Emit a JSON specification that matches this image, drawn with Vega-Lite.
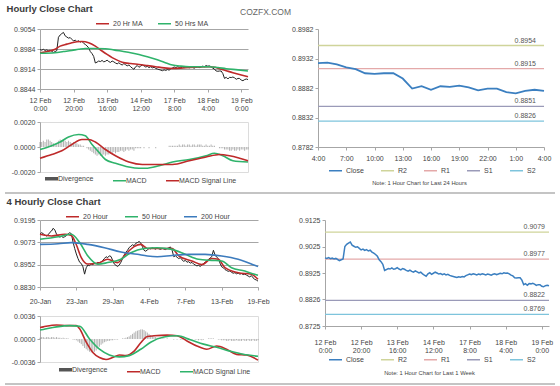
{
"$schema":"https://vega.github.io/schema/vega-lite/v6.json",
"padding":{"left":5,"top":3,"right":5,"bottom":0},
"autosize":{"type":"pad"},
"background":"white",
"config":{
 "font":"Liberation Sans",
 "view":{"stroke":null},
 "axis":{"labelFont":"Liberation Sans","labelFontSize":7,"labelColor":"#444444","domainColor":"#a6a6a6","tickColor":"#a6a6a6","tickSize":3,"gridColor":"#a6a6a6","labelPadding":2,"labelFlush":false,"labelOverlap":false,"labelBound":false,"labelSeparation":0,"tickCount":40},
 "legend":{"labelFont":"Liberation Sans","labelFontSize":7,"labelColor":"#444444","symbolType":"stroke","symbolStrokeWidth":1.5,"symbolSize":169,"columnPadding":12,"direction":"horizontal","orient":"none","padding":0,"labelOffset":3},
 "title":{"font":"Liberation Sans"}
},
"datasets":{
"hr":[{"i":0,"c":0.8982,"d":0.0004},{"i":1,"c":0.898,"d":0.0004},{"i":2,"c":0.8983,"d":0.0005},{"i":3,"c":0.8979,"d":0.0004},{"i":4,"c":0.8981,"d":0.0006},{"i":5,"c":0.8978,"d":0.0006},{"i":6,"c":0.898,"d":0.0005},{"i":7,"c":0.8976,"d":0.0004},{"i":8,"c":0.8972,"d":0.0003},{"i":9,"c":0.8975,"d":0.0002},{"i":10,"c":0.8978,"d":0.0003},{"i":11,"c":0.9025,"d":0.0005},{"i":12,"c":0.9033,"d":0.0006},{"i":13,"c":0.9038,"d":0.0005},{"i":14,"c":0.9042,"d":0.0006},{"i":15,"c":0.903,"d":0.0005},{"i":16,"c":0.9026,"d":0.0004},{"i":17,"c":0.9022,"d":0.0005},{"i":18,"c":0.9024,"d":0.0004},{"i":19,"c":0.9018,"d":0.0003},{"i":20,"c":0.9012,"d":0.0004},{"i":21,"c":0.9015,"d":0.0003},{"i":22,"c":0.901,"d":0.0003},{"i":23,"c":0.9013,"d":0.0002},{"i":24,"c":0.9008,"d":0.0002},{"i":25,"c":0.9011,"d":0.0001},{"i":26,"c":0.9004,"d":0.0001},{"i":27,"c":0.9,"d":0},{"i":28,"c":0.8995,"d":-0.0001},{"i":29,"c":0.8988,"d":-0.0002},{"i":30,"c":0.8975,"d":-0.0003},{"i":31,"c":0.8968,"d":-0.0004},{"i":32,"c":0.8958,"d":-0.0005},{"i":33,"c":0.8935,"d":-0.0006},{"i":34,"c":0.8938,"d":-0.0007},{"i":35,"c":0.8942,"d":-0.0006},{"i":36,"c":0.894,"d":-0.0007},{"i":37,"c":0.8944,"d":-0.0007},{"i":38,"c":0.8939,"d":-0.0006},{"i":39,"c":0.8941,"d":-0.0007},{"i":40,"c":0.8945,"d":-0.0006},{"i":41,"c":0.894,"d":-0.0006},{"i":42,"c":0.8937,"d":-0.0005},{"i":43,"c":0.8942,"d":-0.0005},{"i":44,"c":0.8939,"d":-0.0004},{"i":45,"c":0.8935,"d":-0.0005},{"i":46,"c":0.8932,"d":-0.0004},{"i":47,"c":0.8936,"d":-0.0004},{"i":48,"c":0.8931,"d":-0.0003},{"i":49,"c":0.8928,"d":-0.0003},{"i":50,"c":0.8933,"d":-0.0004},{"i":51,"c":0.8929,"d":-0.0003},{"i":52,"c":0.8925,"d":-0.0002},{"i":53,"c":0.8928,"d":-0.0003},{"i":54,"c":0.8922,"d":-0.0002},{"i":55,"c":0.8917,"d":-0.0002},{"i":56,"c":0.8913,"d":-0.0003},{"i":57,"c":0.8922,"d":-0.0001},{"i":58,"c":0.8926,"d":-0.0001},{"i":59,"c":0.892,"d":-0.0001},{"i":60,"c":0.8924,"d":-0.0001},{"i":61,"c":0.8928,"d":0},{"i":62,"c":0.8925,"d":-0.0001},{"i":63,"c":0.8921,"d":0},{"i":64,"c":0.8923,"d":0},{"i":65,"c":0.8919,"d":-0.0001},{"i":66,"c":0.8922,"d":0},{"i":67,"c":0.8918,"d":0},{"i":68,"c":0.892,"d":0},{"i":69,"c":0.8916,"d":-0.0001},{"i":70,"c":0.8914,"d":0},{"i":71,"c":0.8912,"d":0},{"i":72,"c":0.891,"d":0},{"i":73,"c":0.8908,"d":0},{"i":74,"c":0.8911,"d":0},{"i":75,"c":0.8909,"d":0},{"i":76,"c":0.8912,"d":0},{"i":77,"c":0.891,"d":0.0001},{"i":78,"c":0.8915,"d":0.0001},{"i":79,"c":0.8918,"d":0.0001},{"i":80,"c":0.8921,"d":0.0001},{"i":81,"c":0.8919,"d":0.0001},{"i":82,"c":0.8922,"d":0.0001},{"i":83,"c":0.892,"d":0.0002},{"i":84,"c":0.8918,"d":0.0001},{"i":85,"c":0.8921,"d":0.0002},{"i":86,"c":0.8919,"d":0.0002},{"i":87,"c":0.8922,"d":0.0001},{"i":88,"c":0.892,"d":0.0002},{"i":89,"c":0.8918,"d":0.0002},{"i":90,"c":0.8921,"d":0.0001},{"i":91,"c":0.8919,"d":0.0002},{"i":92,"c":0.8917,"d":0.0002},{"i":93,"c":0.892,"d":0.0001},{"i":94,"c":0.8922,"d":0.0002},{"i":95,"c":0.8919,"d":0.0002},{"i":96,"c":0.8921,"d":0.0002},{"i":97,"c":0.8924,"d":0.0001},{"i":98,"c":0.8922,"d":0.0001},{"i":99,"c":0.8926,"d":0.0002},{"i":100,"c":0.8924,"d":0.0001},{"i":101,"c":0.8925,"d":0.0001},{"i":102,"c":0.8922,"d":0.0002},{"i":103,"c":0.8917,"d":0.0001},{"i":104,"c":0.8914,"d":0.0001},{"i":105,"c":0.8907,"d":0},{"i":106,"c":0.8906,"d":0},{"i":107,"c":0.8907,"d":-0.0001},{"i":108,"c":0.8907,"d":-0.0001},{"i":109,"c":0.8898,"d":-0.0001},{"i":110,"c":0.8881,"d":-0.0002},{"i":111,"c":0.8885,"d":-0.0002},{"i":112,"c":0.8879,"d":-0.0002},{"i":113,"c":0.8885,"d":-0.0003},{"i":114,"c":0.8884,"d":-0.0003},{"i":115,"c":0.8886,"d":-0.0002},{"i":116,"c":0.8883,"d":-0.0003},{"i":117,"c":0.8878,"d":-0.0003},{"i":118,"c":0.8881,"d":-0.0002},{"i":119,"c":0.8881,"d":-0.0003},{"i":120,"c":0.8875,"d":-0.0002},{"i":121,"c":0.8873,"d":-0.0002},{"i":122,"c":0.8877,"d":-0.0003},{"i":123,"c":0.8879,"d":-0.0002},{"i":124,"c":0.8877,"d":-0.0002}],
"hma":[{"i":0,"s":"20 Hr MA","v":0.8971},{"i":5,"s":"20 Hr MA","v":0.8976},{"i":9,"s":"20 Hr MA","v":0.8983},{"i":12,"s":"20 Hr MA","v":0.8994},{"i":16,"s":"20 Hr MA","v":0.9001},{"i":19,"s":"20 Hr MA","v":0.9006},{"i":25,"s":"20 Hr MA","v":0.901},{"i":29,"s":"20 Hr MA","v":0.9006},{"i":33,"s":"20 Hr MA","v":0.8994},{"i":37,"s":"20 Hr MA","v":0.8977},{"i":40,"s":"20 Hr MA","v":0.8965},{"i":43,"s":"20 Hr MA","v":0.8954},{"i":46,"s":"20 Hr MA","v":0.8945},{"i":49,"s":"20 Hr MA","v":0.8938},{"i":54,"s":"20 Hr MA","v":0.8933},{"i":59,"s":"20 Hr MA","v":0.893},{"i":64,"s":"20 Hr MA","v":0.8926},{"i":69,"s":"20 Hr MA","v":0.8922},{"i":74,"s":"20 Hr MA","v":0.8918},{"i":79,"s":"20 Hr MA","v":0.8916},{"i":84,"s":"20 Hr MA","v":0.8917},{"i":89,"s":"20 Hr MA","v":0.8919},{"i":95,"s":"20 Hr MA","v":0.8921},{"i":101,"s":"20 Hr MA","v":0.8922},{"i":104,"s":"20 Hr MA","v":0.892},{"i":107,"s":"20 Hr MA","v":0.8915},{"i":111,"s":"20 Hr MA","v":0.8908},{"i":115,"s":"20 Hr MA","v":0.8901},{"i":120,"s":"20 Hr MA","v":0.8893},{"i":124,"s":"20 Hr MA","v":0.8887},
{"i":0,"s":"50 Hrs MA","v":0.8969},{"i":9,"s":"50 Hrs MA","v":0.8971},{"i":14,"s":"50 Hrs MA","v":0.8975},{"i":19,"s":"50 Hrs MA","v":0.8979},{"i":23,"s":"50 Hrs MA","v":0.8983},{"i":27,"s":"50 Hrs MA","v":0.8986},{"i":33,"s":"50 Hrs MA","v":0.8986},{"i":39,"s":"50 Hrs MA","v":0.8985},{"i":44,"s":"50 Hrs MA","v":0.8981},{"i":49,"s":"50 Hrs MA","v":0.8976},{"i":54,"s":"50 Hrs MA","v":0.8971},{"i":59,"s":"50 Hrs MA","v":0.8965},{"i":64,"s":"50 Hrs MA","v":0.8957},{"i":69,"s":"50 Hrs MA","v":0.8948},{"i":74,"s":"50 Hrs MA","v":0.8938},{"i":79,"s":"50 Hrs MA","v":0.8928},{"i":84,"s":"50 Hrs MA","v":0.8924},{"i":89,"s":"50 Hrs MA","v":0.8922},{"i":95,"s":"50 Hrs MA","v":0.8922},{"i":101,"s":"50 Hrs MA","v":0.8922},{"i":106,"s":"50 Hrs MA","v":0.8919},{"i":111,"s":"50 Hrs MA","v":0.8915},{"i":118,"s":"50 Hrs MA","v":0.8911},{"i":124,"s":"50 Hrs MA","v":0.8907}],
"hmacd":[{"i":0,"s":"MACD","v":-0.0002},{"i":7,"s":"MACD","v":0.0001},{"i":12,"s":"MACD","v":0.0004},{"i":17,"s":"MACD","v":0.0008},{"i":23,"s":"MACD","v":0.001},{"i":27,"s":"MACD","v":0.0009},{"i":31,"s":"MACD","v":0.0002},{"i":35,"s":"MACD","v":-0.0004},{"i":39,"s":"MACD","v":-0.001},{"i":45,"s":"MACD","v":-0.0013},{"i":53,"s":"MACD","v":-0.0016},{"i":59,"s":"MACD","v":-0.0017},{"i":63,"s":"MACD","v":-0.0017},{"i":71,"s":"MACD","v":-0.0015},{"i":79,"s":"MACD","v":-0.0012},{"i":89,"s":"MACD","v":-0.001},{"i":99,"s":"MACD","v":-0.0007},{"i":104,"s":"MACD","v":-0.0005},{"i":109,"s":"MACD","v":-0.0007},{"i":115,"s":"MACD","v":-0.0011},{"i":124,"s":"MACD","v":-0.0012},
{"i":0,"s":"MACD Signal Line","v":-0.0009},{"i":7,"s":"MACD Signal Line","v":-0.0006},{"i":13,"s":"MACD Signal Line","v":-0.0003},{"i":19,"s":"MACD Signal Line","v":0.0002},{"i":25,"s":"MACD Signal Line","v":0.0006},{"i":29,"s":"MACD Signal Line","v":0.0006},{"i":33,"s":"MACD Signal Line","v":0.0004},{"i":39,"s":"MACD Signal Line","v":-0.0002},{"i":45,"s":"MACD Signal Line","v":-0.0007},{"i":53,"s":"MACD Signal Line","v":-0.0012},{"i":61,"s":"MACD Signal Line","v":-0.0014},{"i":71,"s":"MACD Signal Line","v":-0.0014},{"i":79,"s":"MACD Signal Line","v":-0.0014},{"i":89,"s":"MACD Signal Line","v":-0.0011},{"i":99,"s":"MACD Signal Line","v":-0.0008},{"i":107,"s":"MACD Signal Line","v":-0.0006},{"i":113,"s":"MACD Signal Line","v":-0.0007},{"i":119,"s":"MACD Signal Line","v":-0.0009},{"i":124,"s":"MACD Signal Line","v":-0.0011}],
"h4":[{"i":0,"c":0.9118,"d":0.0002},{"i":1,"c":0.9126,"d":0.0003},{"i":2,"c":0.912,"d":0.0003},{"i":3,"c":0.9112,"d":0.0002},{"i":4,"c":0.9108,"d":0.0003},{"i":5,"c":0.9115,"d":0.0003},{"i":6,"c":0.9128,"d":0.0002},{"i":7,"c":0.9135,"d":0.0003},{"i":8,"c":0.915,"d":0.0003},{"i":9,"c":0.914,"d":0.0002},{"i":10,"c":0.9118,"d":0.0003},{"i":11,"c":0.9108,"d":0.0002},{"i":12,"c":0.9102,"d":0.0002},{"i":13,"c":0.9106,"d":0.0001},{"i":14,"c":0.91,"d":0.0002},{"i":15,"c":0.9104,"d":0.0001},{"i":16,"c":0.911,"d":0.0001},{"i":17,"c":0.9118,"d":0.0001},{"i":18,"c":0.9126,"d":0},{"i":19,"c":0.912,"d":0},{"i":20,"c":0.9075,"d":-0.0001},{"i":21,"c":0.904,"d":-0.0001},{"i":22,"c":0.901,"d":-0.0002},{"i":23,"c":0.8985,"d":-0.0004},{"i":24,"c":0.8965,"d":-0.0006},{"i":25,"c":0.8958,"d":-0.0008},{"i":26,"c":0.894,"d":-0.0011},{"i":27,"c":0.89,"d":-0.0014},{"i":28,"c":0.8935,"d":-0.0016},{"i":29,"c":0.895,"d":-0.0018},{"i":30,"c":0.8946,"d":-0.002},{"i":31,"c":0.8955,"d":-0.0021},{"i":32,"c":0.8952,"d":-0.0021},{"i":33,"c":0.896,"d":-0.002},{"i":34,"c":0.8958,"d":-0.0018},{"i":35,"c":0.8964,"d":-0.0015},{"i":36,"c":0.8962,"d":-0.0012},{"i":37,"c":0.8966,"d":-0.0009},{"i":38,"c":0.8975,"d":-0.0007},{"i":39,"c":0.8985,"d":-0.0005},{"i":40,"c":0.8995,"d":-0.0004},{"i":41,"c":0.899,"d":-0.0003},{"i":42,"c":0.9,"d":-0.0003},{"i":43,"c":0.8996,"d":-0.0002},{"i":44,"c":0.8975,"d":-0.0002},{"i":45,"c":0.8955,"d":-0.0001},{"i":46,"c":0.8948,"d":-0.0001},{"i":47,"c":0.8942,"d":-0.0001},{"i":48,"c":0.895,"d":0},{"i":49,"c":0.8965,"d":0},{"i":50,"c":0.8985,"d":0.0001},{"i":51,"c":0.9005,"d":0.0001},{"i":52,"c":0.902,"d":0.0002},{"i":53,"c":0.903,"d":0.0003},{"i":54,"c":0.9045,"d":0.0004},{"i":55,"c":0.9052,"d":0.0006},{"i":56,"c":0.906,"d":0.0008},{"i":57,"c":0.9055,"d":0.001},{"i":58,"c":0.9068,"d":0.0012},{"i":59,"c":0.9072,"d":0.0013},{"i":60,"c":0.9078,"d":0.0014},{"i":61,"c":0.907,"d":0.0015},{"i":62,"c":0.905,"d":0.0015},{"i":63,"c":0.903,"d":0.0014},{"i":64,"c":0.9025,"d":0.0012},{"i":65,"c":0.9032,"d":0.001},{"i":66,"c":0.904,"d":0.0008},{"i":67,"c":0.9038,"d":0.0006},{"i":68,"c":0.9044,"d":0.0005},{"i":69,"c":0.904,"d":0.0004},{"i":70,"c":0.9036,"d":0.0003},{"i":71,"c":0.9042,"d":0.0002},{"i":72,"c":0.9038,"d":0.0002},{"i":73,"c":0.9035,"d":0.0001},{"i":74,"c":0.904,"d":0.0001},{"i":75,"c":0.9037,"d":0.0001},{"i":76,"c":0.9034,"d":0},{"i":77,"c":0.904,"d":0.0001},{"i":78,"c":0.9044,"d":0},{"i":79,"c":0.9048,"d":0},{"i":80,"c":0.903,"d":0},{"i":81,"c":0.8995,"d":-0.0001},{"i":82,"c":0.9,"d":0},{"i":83,"c":0.8992,"d":-0.0001},{"i":84,"c":0.8985,"d":0},{"i":85,"c":0.899,"d":-0.0001},{"i":86,"c":0.8978,"d":-0.0001},{"i":87,"c":0.897,"d":0},{"i":88,"c":0.8975,"d":-0.0001},{"i":89,"c":0.8965,"d":-0.0001},{"i":90,"c":0.8968,"d":0},{"i":91,"c":0.896,"d":-0.0001},{"i":92,"c":0.8964,"d":-0.0001},{"i":93,"c":0.8955,"d":0},{"i":94,"c":0.895,"d":-0.0001},{"i":95,"c":0.8945,"d":-0.0001},{"i":96,"c":0.8948,"d":-0.0002},{"i":97,"c":0.8942,"d":-0.0001},{"i":98,"c":0.895,"d":-0.0002},{"i":99,"c":0.8958,"d":-0.0001},{"i":100,"c":0.8965,"d":0},{"i":101,"c":0.8972,"d":0},{"i":102,"c":0.898,"d":0.0001},{"i":103,"c":0.8988,"d":0.0001},{"i":104,"c":0.8995,"d":0.0001},{"i":105,"c":0.903,"d":0.0001},{"i":106,"c":0.9005,"d":0},{"i":107,"c":0.8992,"d":0},{"i":108,"c":0.8985,"d":-0.0001},{"i":109,"c":0.896,"d":-0.0001},{"i":110,"c":0.894,"d":-0.0002},{"i":111,"c":0.8935,"d":-0.0002},{"i":112,"c":0.8925,"d":-0.0002},{"i":113,"c":0.892,"d":-0.0003},{"i":114,"c":0.8915,"d":-0.0003},{"i":115,"c":0.8918,"d":-0.0002},{"i":116,"c":0.891,"d":-0.0003},{"i":117,"c":0.8905,"d":-0.0003},{"i":118,"c":0.8908,"d":-0.0003},{"i":119,"c":0.8902,"d":-0.0002},{"i":120,"c":0.8906,"d":-0.0003},{"i":121,"c":0.89,"d":-0.0003},{"i":122,"c":0.8903,"d":-0.0003},{"i":123,"c":0.8898,"d":-0.0002},{"i":124,"c":0.89,"d":-0.0003},{"i":125,"c":0.8895,"d":-0.0003},{"i":126,"c":0.889,"d":-0.0002},{"i":127,"c":0.8885,"d":-0.0003},{"i":128,"c":0.8892,"d":-0.0003},{"i":129,"c":0.888,"d":-0.0002},{"i":130,"c":0.8872,"d":-0.0003},{"i":131,"c":0.8868,"d":-0.0003},{"i":132,"c":0.8862,"d":-0.0002}],
"h4ma":[{"i":0,"s":"20 Hour","v":0.9117},{"i":7,"s":"20 Hour","v":0.9108},{"i":15,"s":"20 Hour","v":0.9117},{"i":19,"s":"20 Hour","v":0.911},{"i":22,"s":"20 Hour","v":0.906},{"i":25,"s":"20 Hour","v":0.899},{"i":29,"s":"20 Hour","v":0.8955},{"i":35,"s":"20 Hour","v":0.8959},{"i":41,"s":"20 Hour","v":0.8981},{"i":47,"s":"20 Hour","v":0.8963},{"i":51,"s":"20 Hour","v":0.9},{"i":57,"s":"20 Hour","v":0.905},{"i":61,"s":"20 Hour","v":0.9062},{"i":65,"s":"20 Hour","v":0.904},{"i":73,"s":"20 Hour","v":0.904},{"i":80,"s":"20 Hour","v":0.9039},{"i":84,"s":"20 Hour","v":0.9},{"i":92,"s":"20 Hour","v":0.8972},{"i":98,"s":"20 Hour","v":0.8952},{"i":104,"s":"20 Hour","v":0.8985},{"i":108,"s":"20 Hour","v":0.8981},{"i":112,"s":"20 Hour","v":0.8935},{"i":120,"s":"20 Hour","v":0.8908},{"i":128,"s":"20 Hour","v":0.8899},{"i":132,"s":"20 Hour","v":0.8872},
{"i":0,"s":"50 Hour","v":0.909},{"i":11,"s":"50 Hour","v":0.9104},{"i":19,"s":"50 Hour","v":0.9117},{"i":24,"s":"50 Hour","v":0.9072},{"i":29,"s":"50 Hour","v":0.8999},{"i":35,"s":"50 Hour","v":0.8954},{"i":41,"s":"50 Hour","v":0.8963},{"i":49,"s":"50 Hour","v":0.8981},{"i":55,"s":"50 Hour","v":0.9017},{"i":63,"s":"50 Hour","v":0.904},{"i":71,"s":"50 Hour","v":0.9044},{"i":80,"s":"50 Hour","v":0.9035},{"i":88,"s":"50 Hour","v":0.9008},{"i":96,"s":"50 Hour","v":0.8981},{"i":104,"s":"50 Hour","v":0.8975},{"i":110,"s":"50 Hour","v":0.8972},{"i":116,"s":"50 Hour","v":0.8935},{"i":124,"s":"50 Hour","v":0.8917},{"i":130,"s":"50 Hour","v":0.8899},{"i":132,"s":"50 Hour","v":0.8894},
{"i":0,"s":"200 Hour","v":0.9062},{"i":11,"s":"200 Hour","v":0.9066},{"i":19,"s":"200 Hour","v":0.9072},{"i":29,"s":"200 Hour","v":0.9062},{"i":39,"s":"200 Hour","v":0.9044},{"i":49,"s":"200 Hour","v":0.9021},{"i":59,"s":"200 Hour","v":0.9008},{"i":65,"s":"200 Hour","v":0.8999},{"i":71,"s":"200 Hour","v":0.8995},{"i":80,"s":"200 Hour","v":0.9002},{"i":90,"s":"200 Hour","v":0.9008},{"i":100,"s":"200 Hour","v":0.9008},{"i":110,"s":"200 Hour","v":0.8999},{"i":120,"s":"200 Hour","v":0.8981},{"i":130,"s":"200 Hour","v":0.8948},{"i":132,"s":"200 Hour","v":0.8941}],
"h4macd":[{"i":0,"s":"MACD","v":0.0018},{"i":2,"s":"MACD","v":0.0019},{"i":10,"s":"MACD","v":0.0022},{"i":16,"s":"MACD","v":0.0021},{"i":22,"s":"MACD","v":0.0021},{"i":24,"s":"MACD","v":0.0016},{"i":28,"s":"MACD","v":-0.0005},{"i":32,"s":"MACD","v":-0.0021},{"i":36,"s":"MACD","v":-0.0029},{"i":40,"s":"MACD","v":-0.0032},{"i":44,"s":"MACD","v":-0.0029},{"i":48,"s":"MACD","v":-0.0025},{"i":52,"s":"MACD","v":-0.0026},{"i":57,"s":"MACD","v":-0.0019},{"i":61,"s":"MACD","v":-0.0006},{"i":65,"s":"MACD","v":0.0004},{"i":69,"s":"MACD","v":0.0005},{"i":77,"s":"MACD","v":0.0006},{"i":83,"s":"MACD","v":0.0005},{"i":89,"s":"MACD","v":-0.0003},{"i":95,"s":"MACD","v":-0.0011},{"i":101,"s":"MACD","v":-0.0016},{"i":107,"s":"MACD","v":-0.0011},{"i":113,"s":"MACD","v":-0.0016},{"i":119,"s":"MACD","v":-0.0024},{"i":125,"s":"MACD","v":-0.0025},{"i":132,"s":"MACD","v":-0.0033},
{"i":0,"s":"MACD Signal Line","v":0.0014},{"i":2,"s":"MACD Signal Line","v":0.0015},{"i":10,"s":"MACD Signal Line","v":0.0019},{"i":18,"s":"MACD Signal Line","v":0.0021},{"i":24,"s":"MACD Signal Line","v":0.002},{"i":30,"s":"MACD Signal Line","v":0},{"i":36,"s":"MACD Signal Line","v":-0.0016},{"i":42,"s":"MACD Signal Line","v":-0.0025},{"i":48,"s":"MACD Signal Line","v":-0.0028},{"i":54,"s":"MACD Signal Line","v":-0.0026},{"i":61,"s":"MACD Signal Line","v":-0.0016},{"i":67,"s":"MACD Signal Line","v":-0.0005},{"i":75,"s":"MACD Signal Line","v":0.0003},{"i":83,"s":"MACD Signal Line","v":0.0005},{"i":91,"s":"MACD Signal Line","v":-0.0001},{"i":99,"s":"MACD Signal Line","v":-0.0008},{"i":107,"s":"MACD Signal Line","v":-0.0013},{"i":115,"s":"MACD Signal Line","v":-0.0019},{"i":123,"s":"MACD Signal Line","v":-0.0024},{"i":132,"s":"MACD Signal Line","v":-0.0027}],
"lv24":[{"s":"R2","v":0.8954},{"s":"R1","v":0.8915},{"s":"S1","v":0.8851},{"s":"S2","v":0.8826}],
"lvwk":[{"s":"R2","v":0.9079},{"s":"R1","v":0.8977},{"s":"S1","v":0.8822},{"s":"S2","v":0.8769}],
"one":[{"k":"separator"}],
"none":[]
},
"concat":[
 {"concat":[
   {"width":1,"height":1,"data":{"name":"none"},"mark":"rule","encoding":{}},
   {"concat":[
     {"concat":[
       {"width":208,"height":60,
        "title":{"text":"Hourly Close Chart","anchor":"start","frame":"bounds","fontSize":9.5,"fontWeight":"bold","color":"#3a3a3a","offset":3,"dx":-7},
        "layer":[
         {"data":{"name":"hr"},"mark":{"type":"line","color":"#222222","strokeWidth":1},
          "encoding":{
           "x":{"field":"i","type":"quantitative","title":null,"scale":{"domain":[0,124],"nice":false,"zero":false},"axis":{"values":[0,20,40,60,80,100,120],"tickCount":40,"grid":false,"labelOverlap":false,"labelPadding":4,"labelLineHeight":8,"labelExpr":"[['12 Feb','0:00'],['12 Feb','20:00'],['13 Feb','16:00'],['14 Feb','12:00'],['17 Feb','8:00'],['18 Feb','4:00'],['19 Feb','0:00']][round(datum.value/20)]"}},
           "y":{"field":"c","type":"quantitative","title":null,"scale":{"domain":[0.8844,0.9054],"nice":false,"zero":false},"axis":{"values":[0.8844,0.8914,0.8984,0.9054],"tickCount":40,"format":".4f","grid":true,"labelOverlap":false}}}},
         {"data":{"name":"hma"},"mark":{"type":"line","strokeWidth":1.6,"interpolate":"monotone"},
          "encoding":{
           "x":{"field":"i","type":"quantitative","title":null},
           "y":{"field":"v","type":"quantitative","title":null},
           "color":{"field":"s","type":"nominal","title":null,"scale":{"domain":["20 Hr MA","50 Hrs MA"],"range":["#be2a2a","#2fb36b"]},"legend":{"legendX":55,"legendY":-13}}}}
        ]},
       {"width":208,"height":50,"view":{"stroke":"#dcdcdc"},
        "layer":[
         {"data":{"name":"hr"},"mark":{"type":"rule","strokeWidth":0.9,"opacity":0.5},
          "encoding":{
           "x":{"field":"i","type":"quantitative","title":null,"scale":{"domain":[0,124],"nice":false,"zero":false},"axis":null},
           "y":{"field":"d","type":"quantitative","title":null,"scale":{"domain":[-0.002,0.002],"nice":false,"zero":false},"axis":{"values":[-0.002,0,0.002],"tickCount":40,"grid":false,"labelOverlap":false,"labelExpr":"replace(format(datum.value,'.4f'),'\u2212','-')"}},
           "y2":{"datum":0},
           "color":{"datum":"Divergence","title":null,"scale":{"domain":["Divergence","MACD","MACD Signal Line"],"range":["#555555","#2fb36b","#be2a2a"]}}}},
         {"data":{"name":"hmacd"},"mark":{"type":"line","strokeWidth":1.6,"interpolate":"monotone"},
          "encoding":{
           "x":{"field":"i","type":"quantitative","title":null},
           "y":{"field":"v","type":"quantitative","title":null},
           "color":{"field":"s","type":"nominal","title":null,"scale":{"domain":["Divergence","MACD","MACD Signal Line"],"range":["#555555","#2fb36b","#be2a2a"]},"legend":{"legendX":8,"legendY":53,"columnPadding":16,"encode":{"symbols":{"update":{"strokeWidth":{"signal":"datum.value === 'Divergence' ? 3.5 : 1.5"},"opacity":{"value":1}}}}}}}}
        ]}
     ],"columns":1,"align":"each","spacing":6,"resolve":{"scale":{"color":"independent"},"legend":{"color":"independent"}}},
     {"width":226,"height":118,
      "title":{"text":"COZFX.COM","anchor":"start","frame":"group","fontSize":8.5,"fontWeight":"normal","color":"#666666","offset":9,"dx":-78},
      "layer":[
       {"data":{"name":"lv24"},"mark":{"type":"rule","strokeWidth":1.3},
        "encoding":{
         "y":{"field":"v","type":"quantitative","title":null,"scale":{"domain":[0.8782,0.8982],"nice":false,"zero":false},"axis":{"values":[0.8782,0.8832,0.8882,0.8932,0.8982],"tickCount":40,"format":".4f","grid":false,"labelOverlap":false}},
         "color":{"field":"s","type":"nominal","title":null,"scale":{"domain":["Close","R2","R1","S1","S2"],"range":["#3b7fc0","#cfd49a","#e4a9a9","#9a9ab8","#7ec4dc"]},"legend":{"legendX":10,"legendY":134,"columnPadding":14}}}},
       {"data":{"name":"lv24"},"mark":{"type":"text","align":"right","baseline":"bottom","dx":-8,"dy":-2,"fontSize":7,"color":"#555555"},
        "encoding":{
         "x":{"datum":124,"type":"quantitative"},
         "y":{"field":"v","type":"quantitative","title":null},
         "text":{"field":"v","type":"quantitative","format":".4f"}}},
       {"data":{"name":"hr"},"transform":[{"filter":"datum.i >= 100"}],"mark":{"type":"line","strokeWidth":1.8},
        "encoding":{
         "x":{"field":"i","type":"quantitative","scale":{"domain":[100,124],"nice":false,"zero":false},"axis":{"values":[100,103,106,109,112,115,118,121,124],"tickCount":40,"grid":false,"labelOverlap":false,"labelPadding":4,"labelExpr":"((datum.value - 96) % 24) + ':00'","title":"Note: 1 Hour Chart for Last 24 Hours","titleFontSize":5.8,"titleFontWeight":"normal","titleColor":"#444444","titleX":101,"titleY":35,"titleBaseline":"middle","titleAlign":"center"}},
         "y":{"field":"c","type":"quantitative","title":null},
         "color":{"datum":"Close","title":null,"scale":{"domain":["Close","R2","R1","S1","S2"],"range":["#3b7fc0","#cfd49a","#e4a9a9","#9a9ab8","#7ec4dc"]}}}}
      ]}
   ],"align":"none","spacing":-13,"resolve":{"scale":{"color":"independent"},"legend":{"color":"independent"}}}
 ],"align":"none","spacing":0,"resolve":{"scale":{"color":"independent"},"legend":{"color":"independent"}}},
 {"width":550,"height":5,"data":{"name":"one"},"mark":{"type":"rect","color":"#c4c4c4"},
  "encoding":{"x":{"datum":0,"type":"quantitative","scale":{"domain":[0,1]},"axis":null},"x2":{"datum":1},"y":{"datum":0,"type":"quantitative","scale":{"domain":[0,5]},"axis":null},"y2":{"datum":2}}},
 {"concat":[
   {"width":1,"height":1,"data":{"name":"none"},"mark":"rule","encoding":{}},
   {"concat":[
     {"concat":[
       {"width":218,"height":67,
        "title":{"text":"4 Hourly Close Chart","anchor":"start","frame":"bounds","fontSize":9.5,"fontWeight":"bold","color":"#3a3a3a","offset":3,"dx":-7},
        "layer":[
         {"data":{"name":"h4"},"mark":{"type":"line","color":"#222222","strokeWidth":1},
          "encoding":{
           "x":{"field":"i","type":"quantitative","title":null,"scale":{"domain":[0,132],"nice":false,"zero":false},"axis":{"values":[0,22,44,66,88,110,132],"tickCount":40,"grid":false,"labelOverlap":false,"labelPadding":7,"labelExpr":"['20-Jan','23-Jan','29-Jan','4-Feb','7-Feb','13-Feb','19-Feb'][round(datum.value/22)]"}},
           "y":{"field":"c","type":"quantitative","title":null,"scale":{"domain":[0.883,0.9195],"nice":false,"zero":false},"axis":{"values":[0.883,0.89517,0.90733,0.9195],"tickCount":40,"format":".4f","grid":true,"labelOverlap":false}}}},
         {"data":{"name":"h4ma"},"mark":{"type":"line","strokeWidth":1.6,"interpolate":"monotone"},
          "encoding":{
           "x":{"field":"i","type":"quantitative","title":null},
           "y":{"field":"v","type":"quantitative","title":null},
           "color":{"field":"s","type":"nominal","title":null,"scale":{"domain":["20 Hour","50 Hour","200 Hour"],"range":["#be2a2a","#2fb36b","#3c7bbd"]},"legend":{"legendX":25,"legendY":-11,"columnPadding":14}}}}
        ]},
       {"width":218,"height":46,"view":{"stroke":"#dcdcdc"},
        "layer":[
         {"data":{"name":"h4"},"mark":{"type":"rule","strokeWidth":0.9,"opacity":0.5},
          "encoding":{
           "x":{"field":"i","type":"quantitative","title":null,"scale":{"domain":[0,132],"nice":false,"zero":false},"axis":null},
           "y":{"field":"d","type":"quantitative","title":null,"scale":{"domain":[-0.0036,0.0036],"nice":false,"zero":false},"axis":{"values":[-0.0036,0,0.0036],"tickCount":40,"grid":false,"labelOverlap":false,"labelExpr":"replace(format(datum.value,'.4f'),'\u2212','-')"}},
           "y2":{"datum":0},
           "color":{"datum":"Divergence","title":null,"scale":{"domain":["Divergence","MACD","MACD Signal Line"],"range":["#555555","#be2a2a","#2fb36b"]}}}},
         {"data":{"name":"h4macd"},"mark":{"type":"line","strokeWidth":1.6,"interpolate":"monotone"},
          "encoding":{
           "x":{"field":"i","type":"quantitative","title":null},
           "y":{"field":"v","type":"quantitative","title":null},
           "color":{"field":"s","type":"nominal","title":null,"scale":{"domain":["Divergence","MACD","MACD Signal Line"],"range":["#555555","#be2a2a","#2fb36b"]},"legend":{"legendX":22,"legendY":50,"columnPadding":16,"encode":{"symbols":{"update":{"strokeWidth":{"signal":"datum.value === 'Divergence' ? 3.5 : 1.5"},"opacity":{"value":1}}}}}}}}
        ]}
     ],"columns":1,"align":"each","spacing":7,"resolve":{"scale":{"color":"independent"},"legend":{"color":"independent"}}},
     {"width":224,"height":106,
      "layer":[
       {"data":{"name":"lvwk"},"mark":{"type":"rule","strokeWidth":1.3},
        "encoding":{
         "y":{"field":"v","type":"quantitative","title":null,"scale":{"domain":[0.8725,0.9125],"nice":false,"zero":false},"axis":{"values":[0.8725,0.88256,0.8925,0.9025,0.9125],"tickCount":40,"format":".4f","grid":false,"labelOverlap":false}},
         "color":{"field":"s","type":"nominal","title":null,"scale":{"domain":["Close","R2","R1","S1","S2"],"range":["#3b7fc0","#cfd49a","#e4a9a9","#9a9ab8","#7ec4dc"]},"legend":{"legendX":3,"legendY":132,"columnPadding":14}}}},
       {"data":{"name":"lvwk"},"mark":{"type":"text","align":"right","baseline":"bottom","dx":-4,"dy":-2,"fontSize":7,"color":"#555555"},
        "encoding":{
         "x":{"datum":124,"type":"quantitative"},
         "y":{"field":"v","type":"quantitative","title":null},
         "text":{"field":"v","type":"quantitative","format":".4f"}}},
       {"data":{"name":"hr"},"mark":{"type":"line","strokeWidth":1.5},
        "encoding":{
         "x":{"field":"i","type":"quantitative","scale":{"domain":[0,124],"nice":false,"zero":false},"axis":{"values":[0,20,40,60,80,100,120],"tickCount":40,"grid":false,"labelOverlap":false,"labelPadding":9,"labelLineHeight":8,"labelExpr":"[['12 Feb','0:00'],['12 Feb','20:00'],['13 Feb','16:00'],['14 Feb','12:00'],['17 Feb','8:00'],['18 Feb','4:00'],['19 Feb','0:00']][round(datum.value/20)]","title":"Note: 1 Hour Chart for Last 1 Week","titleFontSize":5.8,"titleFontWeight":"normal","titleColor":"#444444","titleX":104,"titleY":46,"titleBaseline":"middle","titleAlign":"center"}},
         "y":{"field":"c","type":"quantitative","title":null},
         "color":{"datum":"Close","title":null,"scale":{"domain":["Close","R2","R1","S1","S2"],"range":["#3b7fc0","#cfd49a","#e4a9a9","#9a9ab8","#7ec4dc"]}}}}
      ]}
   ],"align":"none","spacing":28,"resolve":{"scale":{"color":"independent"},"legend":{"color":"independent"}}}
 ],"align":"none","spacing":0,"resolve":{"scale":{"color":"independent"},"legend":{"color":"independent"}}},
 {"width":550,"height":5,"data":{"name":"one"},"mark":{"type":"rect","color":"#c4c4c4"},
  "encoding":{"x":{"datum":0,"type":"quantitative","scale":{"domain":[0,1]},"axis":null},"x2":{"datum":1},"y":{"datum":0,"type":"quantitative","scale":{"domain":[0,5]},"axis":null},"y2":{"datum":2}}}
],
"columns":1,"align":"none","spacing":2,
"resolve":{"scale":{"color":"independent"},"legend":{"color":"independent"}}
}
